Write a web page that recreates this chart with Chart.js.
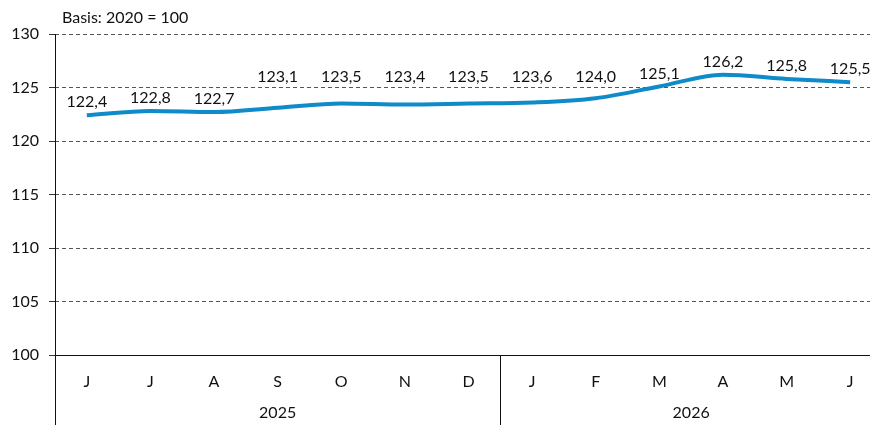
<!DOCTYPE html>
<html><head><meta charset="utf-8">
<script src="https://cdn.jsdelivr.net/npm/chart.js@4/dist/chart.umd.min.js"></script>
<style>
html,body{margin:0;padding:0;background:#fff;overflow:hidden;width:870px;height:425px;}
#wrap{position:relative;width:882px;height:425px;}
</style></head>
<body><div id="wrap"><canvas id="c" width="882" height="425"></canvas></div>
<script>
const months = ['J','J','A','S','O','N','D','J','F','M','A','M','J'];
const years = ['2025','2026'];
const yearStartIndex = [0, 7];
const values = [122.4,122.8,122.7,123.1,123.5,123.4,123.5,123.6,124.0,125.1,126.2,125.8,125.5];
const yTicks = [100,105,110,115,120,125,130];
const FONT = 'Lato, "Liberation Sans", sans-serif';

const extras = {
  id:'extras',
  afterDatasetsDraw(chart){
    const ctx = chart.ctx, ca = chart.chartArea, xs = chart.scales.x, ys = chart.scales.y;
    const meta = chart.getDatasetMeta(0);
    const gridYs = yTicks.map(v=>ys.getPixelForValue(v));
    ctx.save();
    ctx.font = '16px ' + FONT;
    ctx.fillStyle = '#111';
    ctx.textAlign = 'center';
    ctx.textBaseline = 'middle';
    meta.data.forEach((pt,i)=>{
      let cy = pt.y - 13;
      // keep labels off the dashed gridlines
      gridYs.forEach(g=>{ if (Math.abs(cy - g) < 8) cy = g - 11; });
      ctx.fillText(values[i].toFixed(1).replace('.',','), pt.x, cy);
    });
    // left axis extended to bottom
    ctx.strokeStyle = '#111'; ctx.lineWidth = 1;
    ctx.beginPath();
    ctx.moveTo(Math.round(ca.left)+0.5, ca.top);
    ctx.lineTo(Math.round(ca.left)+0.5, chart.height);
    ctx.stroke();
    // year separators and labels
    const step = xs.getPixelForValue(1) - xs.getPixelForValue(0);
    yearStartIndex.forEach((s,k)=>{
      const e = k+1 < yearStartIndex.length ? yearStartIndex[k+1]-1 : months.length-1;
      if (s > 0){
        const sx = Math.round(xs.getPixelForValue(s) - step/2)+0.5;
        ctx.beginPath(); ctx.moveTo(sx, ca.bottom); ctx.lineTo(sx, chart.height); ctx.stroke();
      }
      const cx = (xs.getPixelForValue(s) + xs.getPixelForValue(e))/2;
      ctx.fillText(years[k], cx, ca.bottom + 58);
    });
    // basis text
    ctx.textAlign = 'left';
    ctx.fillText('Basis: 2020 = 100', 62, 18);
    ctx.restore();
  }
};

new Chart(document.getElementById('c'), {
  type:'line',
  data:{labels:months, datasets:[{data:values, borderColor:'#0e8bc8', borderWidth:4, pointRadius:0, tension:0.4, cubicInterpolationMode:'monotone', fill:false}]},
  options:{
    responsive:false, animation:false,
    layout:{padding:{top:34, right:0, left:0, bottom:0}},
    plugins:{legend:{display:false}, tooltip:{enabled:false}},
    scales:{
      x:{offset:true,
        grid:{display:false, drawTicks:false},
        border:{display:true, color:'#111', width:1},
        ticks:{color:'#111', font:{family:FONT, size:16}, padding:17, maxRotation:0, autoSkip:false},
        afterFit(s){ s.height = 70; }
      },
      y:{min:100, max:130,
        afterBuildTicks(s){ s.ticks = yTicks.map(v=>({value:v})); },
        grid:{color:'#555', lineWidth:1, tickLength:6, drawTicks:true, tickColor:'#333'},
        border:{display:false, dash:[4,3]},
        ticks:{color:'#111', font:{family:FONT, size:16}, padding:10},
        afterFit(s){ s.width = 55; }
      }
    }
  },
  plugins:[extras]
});
</script></body></html>
